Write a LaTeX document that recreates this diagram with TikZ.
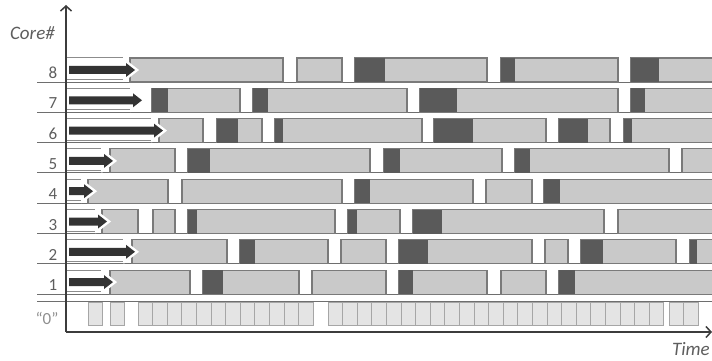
\documentclass[tikz,border=0pt]{standalone}
\usepackage{fontspec}
\setmainfont{Carlito}
\usetikzlibrary{arrows.meta}

\definecolor{boxgray}{HTML}{C9C9C9}
\definecolor{edgegray}{HTML}{7A7A7A}
\definecolor{waitgray}{HTML}{5A5A5A}
\definecolor{slotgray}{HTML}{E4E4E4}
\definecolor{slotedge}{HTML}{A6A6A6}
\definecolor{arrowgray}{HTML}{333333}
\definecolor{axisgray}{HTML}{3C3C3C}
\definecolor{linegray}{HTML}{6E6E6E}
\definecolor{framegray}{HTML}{8C8C8C}
\definecolor{labelgray}{HTML}{5E5E5E}

\tikzset{
  busy/.style={fill=boxgray, draw=edgegray, line width=1.1pt},
  wait/.style={fill=waitgray},
  slot/.style={fill=slotgray, draw=slotedge, line width=0.9pt},
  startarrow/.style={fill=arrowgray, preaction={draw=white, line width=5pt, line join=miter}},
  axis/.style={draw=axisgray, line width=1.5pt, -{Straight Barb[length=5pt,width=11pt]}},
  lbl/.style={text=labelgray, inner sep=0pt},
}

% row r: top at 58+(8-r)*30.3, height 24
\newcommand\job[3]{\draw[busy] (#2,{58+(8-#1)*30.3}) rectangle (#3,{82+(8-#1)*30.3});}
\newcommand\stall[3]{\fill[wait] (#2,{58+(8-#1)*30.3}) rectangle (#3,{82+(8-#1)*30.3});}
\newcommand\launch[2]{%
  \pgfmathsetmacro\yc{70+(8-#1)*30.3}%
  \fill[startarrow] (69,\yc-4) -- (#2-9,\yc-4) -- (#2-9,\yc-7) -- (#2,\yc)
    -- (#2-9,\yc+7) -- (#2-9,\yc+4) -- (69,\yc+4) -- cycle;}
\newcommand\corerow[2]{%
  \pgfmathsetmacro\yt{58+(8-#1)*30.3}%
  \pgfmathsetmacro\yb{82+(8-#1)*30.3}%
  \draw[linegray, line width=1pt] (37,\yb) -- (715,\yb);
  \draw[framegray, line width=1pt] (67,\yt) -- (#2-12,\yt);
  \draw[framegray, line width=1pt] (67,\yb-2.5) -- (#2-12,\yb-2.5);
  \node[lbl, anchor=base, font=\fontsize{17}{17}\selectfont] (n#1) at (53,\yb-3.5) {#1};}

\begin{document}
\begin{tikzpicture}[x=1pt, y=-1pt]
  \useasboundingbox (0,0) rectangle (712,361);

  % rows: base lines, frame, number
  \corerow{8}{135} \corerow{7}{142} \corerow{6}{163} \corerow{5}{113}
  \corerow{4}{93}  \corerow{3}{107} \corerow{2}{135} \corerow{1}{113}

  % core 8
  \job{8}{130}{283} \job{8}{297}{342} \job{8}{355}{487} \job{8}{501}{618} \job{8}{631}{716}
  \stall{8}{355}{385} \stall{8}{501}{515} \stall{8}{631}{659}
  % core 7
  \job{7}{152}{240} \job{7}{253}{407} \job{7}{420}{618} \job{7}{631}{716}
  \stall{7}{152}{168} \stall{7}{253}{268} \stall{7}{420}{457} \stall{7}{631}{645}
  % core 6
  \job{6}{159}{203} \job{6}{217}{262} \job{6}{275}{422} \job{6}{434}{546} \job{6}{559}{610} \job{6}{624}{716}
  \stall{6}{217}{238} \stall{6}{275}{283} \stall{6}{434}{473} \stall{6}{559}{588} \stall{6}{624}{632}
  % core 5
  \job{5}{110}{175} \job{5}{188}{370} \job{5}{384}{502} \job{5}{515}{669} \job{5}{682}{716}
  \stall{5}{188}{210} \stall{5}{384}{400} \stall{5}{515}{530}
  % core 4
  \job{4}{88}{168} \job{4}{182}{342} \job{4}{355}{473} \job{4}{486}{532} \job{4}{544}{716}
  \stall{4}{355}{370} \stall{4}{544}{560}
  % core 3
  \job{3}{102}{138} \job{3}{153}{175} \job{3}{188}{335} \job{3}{348}{400} \job{3}{413}{604} \job{3}{618}{716}
  \stall{3}{188}{197} \stall{3}{348}{357} \stall{3}{413}{442}
  % core 2
  \job{2}{132}{227} \job{2}{240}{328} \job{2}{341}{386} \job{2}{399}{532} \job{2}{545}{568} \job{2}{581}{676} \job{2}{690}{716}
  \stall{2}{240}{255} \stall{2}{399}{428} \stall{2}{581}{603} \stall{2}{690}{697}
  % core 1
  \job{1}{110}{190} \job{1}{203}{299} \job{1}{312}{386} \job{1}{399}{487} \job{1}{501}{546} \job{1}{559}{716}
  \stall{1}{203}{223} \stall{1}{399}{413} \stall{1}{559}{575}

  % start-up arrows
  \launch{8}{135} \launch{7}{142} \launch{6}{163} \launch{5}{113}
  \launch{4}{93}  \launch{3}{107} \launch{2}{135} \launch{1}{113}

  % core "0": short slots
  \draw[linegray, line width=1pt] (37,301) -- (715,301);
  \foreach \s/\n in {88/1, 110/1, 138/12, 328/23, 669/2}
    \foreach \k in {1,...,\n}
      \draw[slot] ({\s+(\k-1)*14.6},302.5) rectangle ++(14.6,22.5);
  \node[lbl, anchor=base, text=labelgray!70, font=\fontsize{17}{17}\selectfont] (zero) at (47,324) {“0”};

  % axes
  \coordinate (origin) at (66,332);
  \coordinate (ytop) at (66,5);
  \coordinate (xend) at (712,332);
  \draw[axis] (origin) -- (ytop);
  \draw[axis] (origin) -- (xend);
  \node[lbl, anchor=base east, font=\fontsize{19}{19}\selectfont\itshape] (core) at (55,39.3) {Core\#};
  \node[lbl, anchor=base east, font=\fontsize{19}{19}\selectfont\itshape] (time) at (710,355) {Time};
\end{tikzpicture}
\end{document}
